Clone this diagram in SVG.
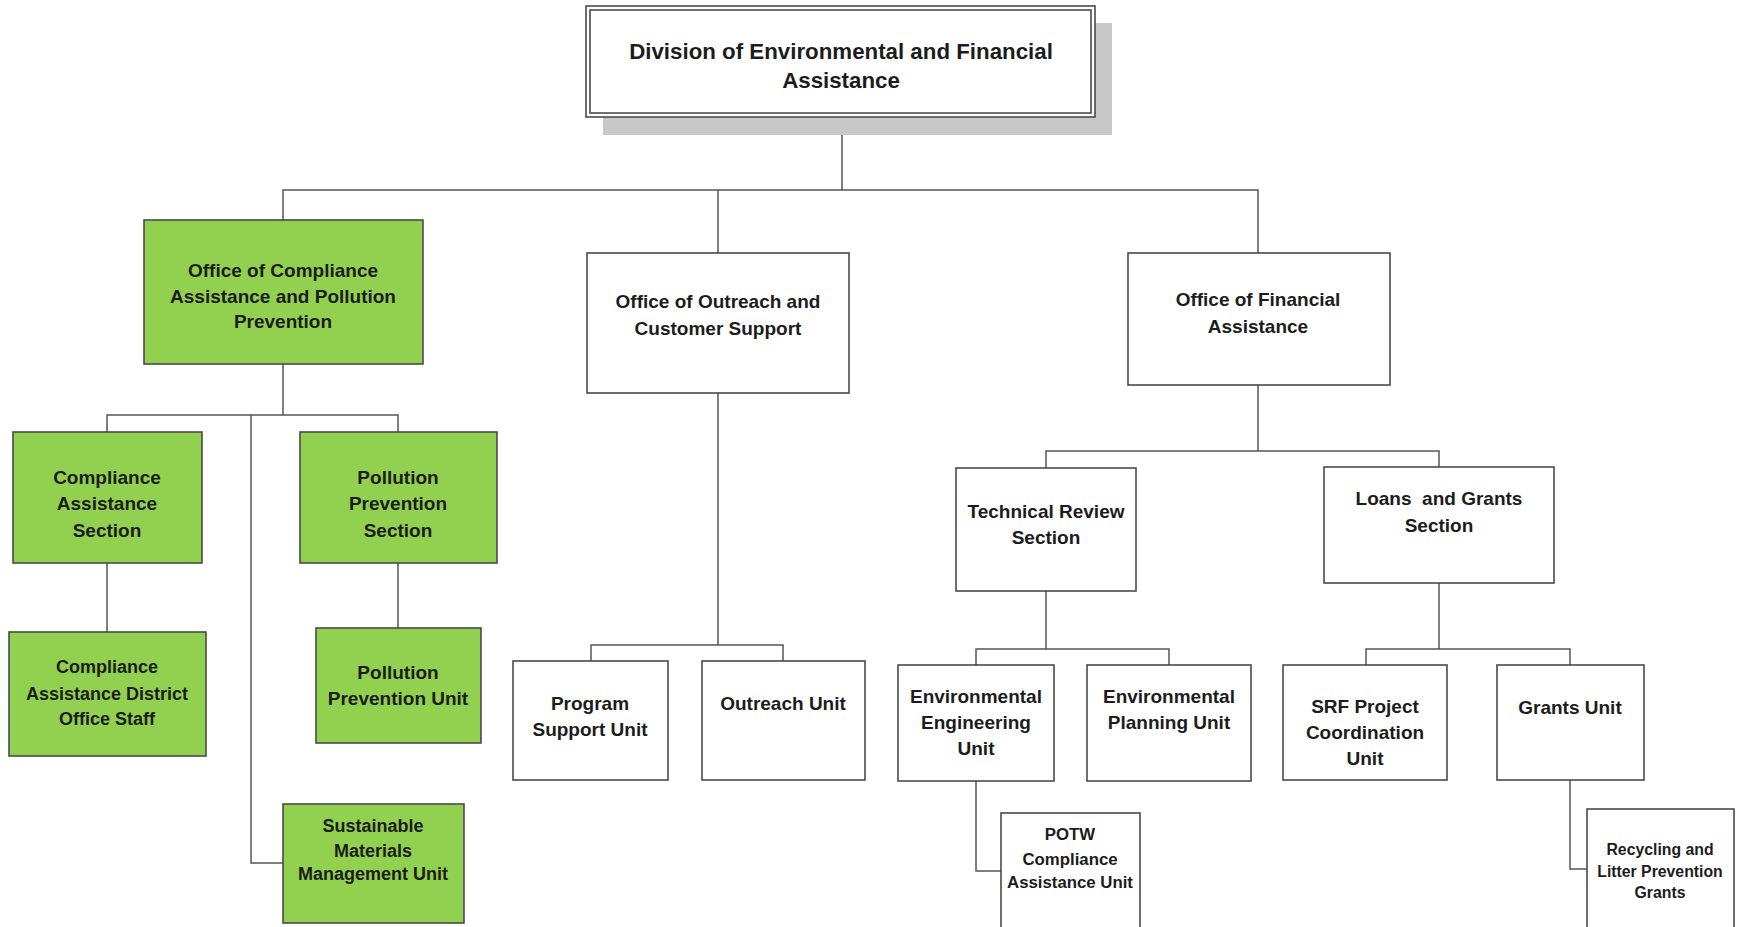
<svg xmlns="http://www.w3.org/2000/svg" width="1739" height="927" viewBox="0 0 1739 927">
<style>
.bg{fill:#ffffff}
.box{fill:#ffffff;stroke:#4a4a4a;stroke-width:1.6}
.g{fill:#92d050;stroke:#4a4a4a;stroke-width:1.6}
.shadow{fill:#c8c8c8}
.conn{fill:none;stroke:#555555;stroke-width:1.5}
text{font-family:"Liberation Sans",Arial,sans-serif;font-weight:bold;fill:#1c1c1c;text-anchor:middle}
.t19{font-size:19px}
.t18{font-size:18px}
.t17{font-size:16.8px}
.t16{font-size:15.8px}
.t22{font-size:22.3px}
</style>
<rect class="bg" x="0" y="0" width="1739" height="927"/>

<g id="connectors">
  <path class="conn" d="M842 117V190"/>
  <path class="conn" d="M283 220V190H1258V253"/>
  <path class="conn" d="M718 190V253"/>
  <path class="conn" d="M283 364V415"/>
  <path class="conn" d="M107 432V415H398V432"/>
  <path class="conn" d="M251 415V863H283"/>
  <path class="conn" d="M107 563V632"/>
  <path class="conn" d="M398 563V628"/>
  <path class="conn" d="M718 393V645"/>
  <path class="conn" d="M591 661V645H783V661"/>
  <path class="conn" d="M1258 385V451"/>
  <path class="conn" d="M1046 468V451H1439V467"/>
  <path class="conn" d="M1046 591V649"/>
  <path class="conn" d="M976 665V649H1169V665"/>
  <path class="conn" d="M976 781V871H1001"/>
  <path class="conn" d="M1439 583V649"/>
  <path class="conn" d="M1366 665V649H1570V665"/>
  <path class="conn" d="M1570 780V869H1587"/>
</g>

<g id="division">
  <rect class="shadow" x="603" y="23" width="509" height="112"/>
  <rect class="box" x="586" y="6" width="509" height="111"/>
  <rect class="box" x="590" y="10" width="501" height="103"/>
  <text class="t22" x="841" y="59">Division of Environmental and Financial</text>
  <text class="t22" x="841" y="88">Assistance</text>
</g>

<g id="ocapp">
  <rect class="g" x="144" y="220" width="279" height="144"/>
  <text class="t19" x="283" y="277">Office of Compliance</text>
  <text class="t19" x="283" y="303">Assistance and Pollution</text>
  <text class="t19" x="283" y="328">Prevention</text>
</g>

<g id="cas">
  <rect class="g" x="13" y="432" width="189" height="131"/>
  <text class="t19" x="107" y="484">Compliance</text>
  <text class="t19" x="107" y="510">Assistance</text>
  <text class="t19" x="107" y="537">Section</text>
</g>

<g id="pps">
  <rect class="g" x="300" y="432" width="197" height="131"/>
  <text class="t19" x="398" y="484">Pollution</text>
  <text class="t19" x="398" y="510">Prevention</text>
  <text class="t19" x="398" y="537">Section</text>
</g>

<g id="cados">
  <rect class="g" x="9" y="632" width="197" height="124"/>
  <text class="t18" x="107" y="673">Compliance</text>
  <text class="t18" x="107" y="700">Assistance District</text>
  <text class="t18" x="107" y="725">Office Staff</text>
</g>

<g id="ppu">
  <rect class="g" x="316" y="628" width="165" height="115"/>
  <text class="t19" x="398" y="679">Pollution</text>
  <text class="t19" x="398" y="705">Prevention Unit</text>
</g>

<g id="smmu">
  <rect class="g" x="283" y="804" width="181" height="119"/>
  <text class="t18" x="373" y="832">Sustainable</text>
  <text class="t18" x="373" y="857">Materials</text>
  <text class="t18" x="373" y="880">Management Unit</text>
</g>

<g id="oocs">
  <rect class="box" x="587" y="253" width="262" height="140"/>
  <text class="t19" x="718" y="308">Office of Outreach and</text>
  <text class="t19" x="718" y="335">Customer Support</text>
</g>

<g id="psu">
  <rect class="box" x="513" y="661" width="155" height="119"/>
  <text class="t19" x="590" y="710">Program</text>
  <text class="t19" x="590" y="736">Support Unit</text>
</g>

<g id="ou">
  <rect class="box" x="702" y="661" width="163" height="119"/>
  <text class="t19" x="783" y="710">Outreach Unit</text>
</g>

<g id="ofa">
  <rect class="box" x="1128" y="253" width="262" height="132"/>
  <text class="t19" x="1258" y="306">Office of Financial</text>
  <text class="t19" x="1258" y="333">Assistance</text>
</g>

<g id="trs">
  <rect class="box" x="956" y="468" width="180" height="123"/>
  <text class="t19" x="1046" y="518">Technical Review</text>
  <text class="t19" x="1046" y="544">Section</text>
</g>

<g id="lgs">
  <rect class="box" x="1324" y="467" width="230" height="116"/>
  <text class="t19" x="1439" y="505" xml:space="preserve">Loans  and Grants</text>
  <text class="t19" x="1439" y="532">Section</text>
</g>

<g id="eeu">
  <rect class="box" x="898" y="665" width="156" height="116"/>
  <text class="t19" x="976" y="703">Environmental</text>
  <text class="t19" x="976" y="729">Engineering</text>
  <text class="t19" x="976" y="755">Unit</text>
</g>

<g id="epu">
  <rect class="box" x="1087" y="665" width="164" height="116"/>
  <text class="t19" x="1169" y="703">Environmental</text>
  <text class="t19" x="1169" y="729">Planning Unit</text>
</g>

<g id="potw">
  <rect class="box" x="1001" y="813" width="139" height="130"/>
  <text class="t17" x="1070" y="840">POTW</text>
  <text class="t17" x="1070" y="865">Compliance</text>
  <text class="t17" x="1070" y="888">Assistance Unit</text>
</g>

<g id="srf">
  <rect class="box" x="1283" y="665" width="164" height="115"/>
  <text class="t19" x="1365" y="713">SRF Project</text>
  <text class="t19" x="1365" y="739">Coordination</text>
  <text class="t19" x="1365" y="765">Unit</text>
</g>

<g id="gu">
  <rect class="box" x="1497" y="665" width="147" height="115"/>
  <text class="t19" x="1570" y="714">Grants Unit</text>
</g>

<g id="rlpg">
  <rect class="box" x="1587" y="809" width="147" height="135"/>
  <text class="t16" x="1660" y="855">Recycling and</text>
  <text class="t16" x="1660" y="877">Litter Prevention</text>
  <text class="t16" x="1660" y="898">Grants</text>
</g>
</svg>
